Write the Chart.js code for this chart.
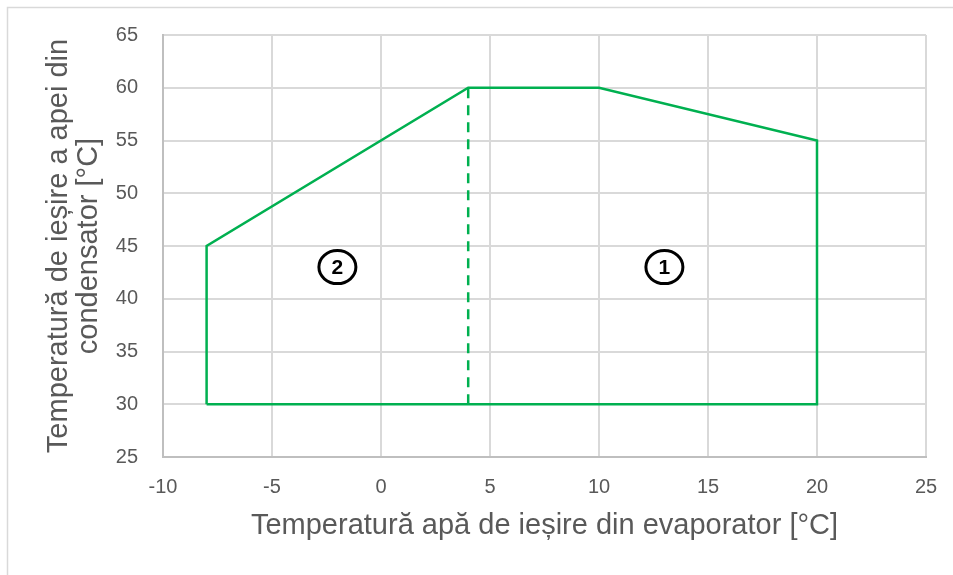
<!DOCTYPE html>
<html>
<head>
<meta charset="utf-8">
<script src="https://cdn.jsdelivr.net/npm/chart.js@4/dist/chart.umd.min.js"></script>
<style>
  html, body { margin: 0; padding: 0; background: #ffffff; }
  canvas { display: block; }
</style>
</head>
<body>
<canvas id="c" width="953" height="575"></canvas>
<script>
// ---- data ----
const xTickValues = [-10, -5, 0, 5, 10, 15, 20, 25];
const yTickValues = [25, 30, 35, 40, 45, 50, 55, 60, 65];
const envelopeX = [-8, -8, 4, 10, 20, 20, -8];
const envelopeY = [30, 45, 60, 60, 55, 30, 30];
const splitX = [4, 4];
const splitY = [30, 60];
const zoneLabels = ['2', '1'];
const zoneX = [-2, 13];
const zoneY = [43, 43];
const xTitle = 'Temperatură apă de ieșire din evaporator [°C]';
const yTitle = ['Temperatură de ieșire a apei din', 'condensator [°C]'];

const GREEN = '#00b050';
const TEXT = '#595959';

const toPts = (xs, ys) => xs.map((x, i) => ({ x: x, y: ys[i] }));

const framePlugin = {
  id: 'frame',
  beforeDraw(chart) {
    const ctx = chart.ctx;
    ctx.save();
    ctx.strokeStyle = '#d9d9d9';
    ctx.lineWidth = 1.5;
    ctx.beginPath();
    ctx.moveTo(7.5, 575);
    ctx.lineTo(7.5, 7.5);
    ctx.lineTo(953, 7.5);
    ctx.stroke();
    ctx.restore();
  }
};

const zonePlugin = {
  id: 'zones',
  afterDatasetsDraw(chart) {
    const ctx = chart.ctx;
    const xs = chart.scales.x, ys = chart.scales.y;
    ctx.save();
    zoneLabels.forEach((lab, i) => {
      const px = xs.getPixelForValue(zoneX[i]);
      const py = ys.getPixelForValue(zoneY[i]);
      ctx.beginPath();
      ctx.ellipse(px, py, 18.5, 16.5, 0, 0, Math.PI * 2);
      ctx.lineWidth = 3;
      ctx.strokeStyle = '#000000';
      ctx.stroke();
      ctx.fillStyle = '#000000';
      ctx.font = 'bold 21px "Liberation Sans", Arial, sans-serif';
      ctx.textAlign = 'center';
      ctx.textBaseline = 'middle';
      ctx.fillText(lab, px, py + 1);
    });
    ctx.restore();
  }
};

new Chart(document.getElementById('c'), {
  type: 'scatter',
  data: {
    datasets: [
      {
        data: toPts(envelopeX, envelopeY),
        showLine: true,
        borderColor: GREEN,
        borderWidth: 2.5,
        pointRadius: 0,
        fill: false,
        tension: 0
      },
      {
        data: toPts(splitX, splitY),
        showLine: true,
        borderColor: GREEN,
        borderWidth: 2.5,
        borderDash: [10, 7],
        pointRadius: 0,
        fill: false
      }
    ]
  },
  options: {
    responsive: false,
    devicePixelRatio: 1,
    animation: false,
    layout: { padding: { left: 44, top: 35, right: 27, bottom: 32 } },
    plugins: {
      legend: { display: false },
      tooltip: { enabled: false }
    },
    scales: {
      x: {
        type: 'linear',
        min: xTickValues[0],
        max: xTickValues[xTickValues.length - 1],
        afterBuildTicks(scale) { scale.ticks = xTickValues.map(v => ({ value: v })); },
        afterFit(scale) { scale.height = 86; scale.paddingLeft = 0; scale.paddingRight = 0; },
        grid: { color: '#d9d9d9', lineWidth: 2, drawTicks: false },
        border: { color: '#bfbfbf', width: 2 },
        ticks: {
          padding: 18,
          color: TEXT,
          font: { family: '"Liberation Sans", Arial, sans-serif', size: 20 }
        },
        title: {
          display: true,
          text: xTitle,
          color: TEXT,
          padding: 0,
          font: { family: '"Liberation Sans", Arial, sans-serif', size: 29, lineHeight: 1.2 }
        }
      },
      y: {
        type: 'linear',
        min: yTickValues[0],
        max: yTickValues[yTickValues.length - 1],
        afterBuildTicks(scale) { scale.ticks = yTickValues.map(v => ({ value: v })); },
        afterFit(scale) { scale.width = 119; scale.paddingTop = 0; scale.paddingBottom = 0; },
        grid: { color: '#d9d9d9', lineWidth: 2, drawTicks: false },
        border: { color: '#bfbfbf', width: 2 },
        ticks: {
          padding: 25,
          color: TEXT,
          font: { family: '"Liberation Sans", Arial, sans-serif', size: 20 }
        },
        title: {
          display: true,
          text: yTitle,
          color: TEXT,
          padding: 0,
          font: { family: '"Liberation Sans", Arial, sans-serif', size: 29, lineHeight: 30 / 29 }
        }
      }
    }
  },
  plugins: [framePlugin, zonePlugin]
});
</script>
</body>
</html>
